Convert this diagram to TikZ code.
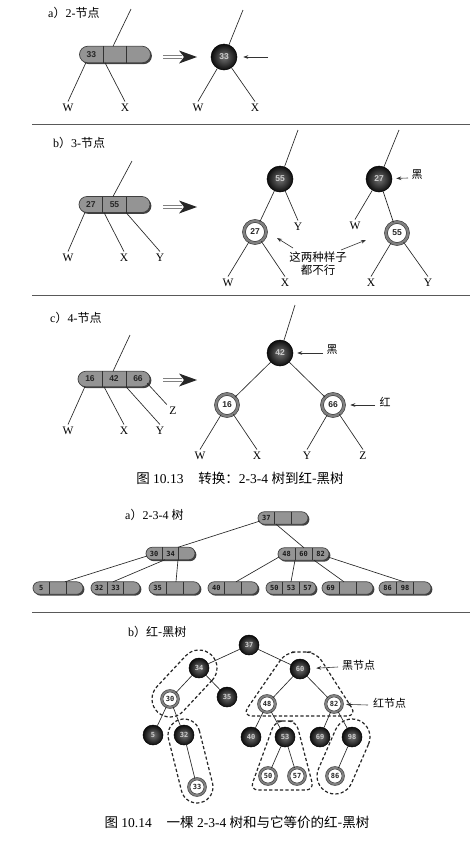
\documentclass[tikz,border=0pt]{standalone}
\usepackage{fontspec}
\setmainfont{Liberation Serif}
\newfontfamily\cjk{Noto Sans CJK SC}
\newfontfamily\numsans{Liberation Sans}
\newfontfamily\nummono{DejaVu Sans Mono}
\newcommand\zh[1]{{\cjk #1}}
\usetikzlibrary{calc,shapes.misc,shadows,arrows.meta}
\tikzset{
  keybox/.style={rounded rectangle, draw=black!75, line width=0.7pt, fill=black!42, inner sep=0pt,
    drop shadow={shadow xshift=1.4pt, shadow yshift=-1.4pt, fill=black!75, opacity=1}},
  keyline/.style={draw=black!80, line width=0.7pt},
  keytxt/.style={inner sep=0pt, text=black!85, font=\numsans\bfseries\fontsize{8.5}{9}\selectfont},
  keytxts/.style={inner sep=0pt, text=black!90, font=\nummono\bfseries\fontsize{7}{8}\selectfont},
  blk/.style={circle, inner sep=0pt, minimum size=26pt, inner color=black!55, outer color=black!95, draw=black, line width=0.5pt, text=black!20, font=\numsans\bfseries\fontsize{8.5}{9}\selectfont},
  rednode/.style={circle, inner sep=0pt, minimum size=22pt, fill=white, draw=black!80, double=black!50, double distance=2.4pt, line width=0.6pt, text=black!85, font=\numsans\bfseries\fontsize{8.5}{9}\selectfont},
  blks/.style={blk, minimum size=20pt, font=\nummono\bfseries\fontsize{7}{8}\selectfont},
  reds/.style={rednode, minimum size=16.5pt, double distance=1.9pt, line width=0.55pt, font=\nummono\bfseries\fontsize{7}{8}\selectfont},
  tline/.style={draw=black!85, line width=0.65pt},
  lbl/.style={inner sep=2.5pt, font=\fontsize{11.5}{12}\selectfont},
  sec/.style={inner sep=0pt, anchor=west, font=\fontsize{12}{13}\selectfont},
  zhlbl/.style={inner sep=0pt, font=\cjk\fontsize{11}{13}\selectfont},
  captxt/.style={inner sep=0pt, font=\fontsize{13.5}{15}\selectfont},
  ptr/.style={draw=black!80, line width=0.6pt, -{Stealth[length=5pt,width=3.6pt]}},
  rule/.style={draw=black!65, line width=1pt},
  encl/.style={draw=black!85, line width=1.2pt, dash pattern=on 3.2pt off 2.2pt},
}
% name, x, y, width, height, text style, t1, t2, t3
\newcommand\keybar[9]{%
  \node[keybox, minimum width=#4pt, minimum height=#5pt] (#1) at (#2,#3) {};
  \draw[keyline] ($(#1.center)+({-#4/6},{-#5/2})$) -- ($(#1.center)+({-#4/6},{#5/2})$);
  \draw[keyline] ($(#1.center)+({#4/6},{-#5/2})$) -- ($(#1.center)+({#4/6},{#5/2})$);
  \node[#6] (#1a) at ($(#1.center)+({-#4/3},0)$) {#7};
  \node[#6] (#1b) at (#1.center) {#8};
  \node[#6] (#1c) at ($(#1.center)+({#4/3},0)$) {#9};
}
\newcommand\convarrow[1]{%
  \draw[black!50, line width=0.7pt] (163,#1-1.7) -- (182,#1-1.7) (163,#1+1.7) -- (182,#1+1.7);
  \fill[black!85] (197,#1) -- (179,#1-6.5) -- (184,#1) -- (179,#1+6.5) -- cycle;
}
\newcommand\capsule[3]{%
  \draw[encl] let \p1=($(#2)-(#1)$), \n1={atan2(\y1,\x1)} in
    ($(#1)+(\n1+90:#3)$) arc[start angle=\n1+90, end angle=\n1+270, radius=#3]
    -- ($(#2)+(\n1-90:#3)$) arc[start angle=\n1-90, end angle=\n1+90, radius=#3] -- cycle;
}
\begin{document}
\begin{tikzpicture}[x=1pt,y=-1pt]
\fill[white] (0,0) rectangle (476,844);
\useasboundingbox (0,0) rectangle (476,844);

% ---------------- a) 2-node
\node[sec] (la) at (48,13) {a\zh{）}2-\zh{节点}};
\keybar{ka}{115}{54.5}{71}{16.5}{keytxt}{33}{}{}
\coordinate (kat) at (131,9);
\draw[tline] (kat) -- ($(ka.center)+(-2,-8.2)$);
\node[lbl] (law) at (68,108) {W};
\node[lbl] (lax) at (125,108) {X};
\draw[tline] ($(ka.center)+(-29,8)$) -- (law.north);
\draw[tline] ($(ka.center)+(-10,8.2)$) -- (lax.north);
\convarrow{57}
\node[blk] (c33) at (224,57) {33};
\coordinate (c33t) at (243,10);
\draw[tline] (c33t) -- (c33);
\node[lbl] (raw) at (198,108) {W};
\node[lbl] (rax) at (255,108) {X};
\draw[tline] (c33) -- (raw.north);
\draw[tline] (c33) -- (rax.north);
\coordinate (pa) at (268,57);
\draw[ptr, shorten >=6pt] (pa) -- (c33);
\draw[rule] (32,124.5) -- (470,124.5);

% ---------------- b) 3-node
\node[sec] (lb) at (53,143) {b\zh{）}3-\zh{节点}};
\keybar{kb}{114.5}{204.5}{71}{16}{keytxt}{27}{55}{}
\coordinate (kbt) at (132,161);
\draw[tline] (kbt) -- ($(kb.center)+(-1.5,-8)$);
\node[lbl] (lbw) at (68,258) {W};
\node[lbl] (lbx) at (124,258) {X};
\node[lbl] (lby) at (160,258) {Y};
\draw[tline] ($(kb.center)+(-29.5,7.8)$) -- (lbw.north);
\draw[tline] ($(kb.center)+(-10.5,8)$) -- (lbx.north);
\draw[tline] ($(kb.center)+(11.5,8)$) -- (lby.north);
\convarrow{207}
\node[blk] (b55) at (280,179) {55};
\coordinate (b55t) at (298,130);
\node[rednode] (b27r) at (255,232) {27};
\node[lbl] (bY1) at (298,227) {Y};
\node[lbl] (bW1) at (228,283) {W};
\node[lbl] (bX1) at (285,283) {X};
\draw[tline] (b55t) -- (b55);
\draw[tline] (b55) -- (b27r);
\draw[tline] (b55) -- (bY1.north);
\draw[tline] (b27r) -- (bW1.north);
\draw[tline] (b27r) -- (bX1.north);
\node[blk] (b27) at (379,179) {27};
\coordinate (b27t) at (399,130);
\node[lbl] (bW2) at (355,226) {W};
\node[rednode] (b55r) at (397,233) {55};
\node[lbl] (bX2) at (371,283) {X};
\node[lbl] (bY2) at (428,283) {Y};
\draw[tline] (b27t) -- (b27);
\draw[tline] (b27) -- (bW2.north);
\draw[tline] (b27) -- (b55r);
\draw[tline] (b55r) -- (bX2.north);
\draw[tline] (b55r) -- (bY2.north);
\node[zhlbl] (bh) at (417,175) {黑};
\coordinate (pbh) at (408,178);
\draw[ptr, shorten >=4pt] (pbh) -- (b27);
\node[zhlbl, align=center, font=\cjk\fontsize{11.5}{13}\selectfont] (bt) at (318,264) {这两种样子\\都不行};
\coordinate (bt1s) at (293,248);
\coordinate (bt1e) at (277,238);
\draw[ptr] (bt1s) -- (bt1e);
\coordinate (bt2s) at (341,250);
\coordinate (bt2e) at (366,240);
\draw[ptr] (bt2s) -- (bt2e);
\draw[rule] (32,295.5) -- (470,295.5);

% ---------------- c) 4-node
\node[sec] (lc) at (50,318) {c\zh{）}4-\zh{节点}};
\keybar{kc}{114}{379}{72}{15.5}{keytxt}{16}{42}{66}
\coordinate (kct) at (130,335);
\draw[tline] (kct) -- ($(kc.center)+(-1,-7.7)$);
\node[lbl] (lcw) at (68,431) {W};
\node[lbl] (lcx) at (124,431) {X};
\node[lbl] (lcy) at (160,431) {Y};
\node[lbl] (lcz) at (173,411) {Z};
\draw[tline] ($(kc.center)+(-29,7.5)$) -- (lcw.north);
\draw[tline] ($(kc.center)+(-10,7.7)$) -- (lcx.north);
\draw[tline] ($(kc.center)+(12,7.7)$) -- (lcy.north);
\draw[tline] ($(kc.center)+(33,4)$) -- (lcz.north west);
\convarrow{380}
\node[blk] (c42) at (280,353) {42};
\coordinate (c42t) at (295,305);
\node[rednode] (c16) at (227,405) {16};
\node[rednode] (c66) at (333,405) {66};
\node[lbl] (cW) at (200,456) {W};
\node[lbl] (cX) at (257,456) {X};
\node[lbl] (cY) at (307,456) {Y};
\node[lbl] (cZ) at (363,456) {Z};
\draw[tline] (c42t) -- (c42);
\draw[tline] (c42) -- (c16);
\draw[tline] (c42) -- (c66);
\draw[tline] (c16) -- (cW.north);
\draw[tline] (c16) -- (cX.north);
\draw[tline] (c66) -- (cY.north);
\draw[tline] (c66) -- (cZ.north);
\node[zhlbl] (ch) at (332,350) {黑};
\coordinate (pch) at (323,353);
\draw[ptr, shorten >=4pt] (pch) -- (c42);
\node[zhlbl] (cr) at (385,402) {红};
\coordinate (pcr) at (375,405);
\draw[ptr, shorten >=6pt] (pcr) -- (c66);
\node[captxt] (cap1) at (240,478) {\zh{图} 10.13\hspace{1.1em}\zh{转换：}2-3-4 \zh{树到红-黑树}};

% ---------------- Fig 10.14 a) 2-3-4 tree
\node[sec] (ld) at (125,515) {a\zh{）}2-3-4 \zh{树}};
\keybar{t37}{283}{518}{50}{12.5}{keytxts}{37}{}{}
\keybar{tp}{170.5}{553.5}{49}{12.5}{keytxts}{30}{34}{}
\keybar{tq}{303.5}{554}{51}{12.5}{keytxts}{48}{60}{82}
\keybar{tl}{58}{588}{50}{12.5}{keytxts}{5}{}{}
\keybar{tm}{115.5}{588}{49}{12.5}{keytxts}{32}{33}{}
\keybar{tn}{174.5}{588}{51}{12.5}{keytxts}{35}{}{}
\keybar{to}{233}{588}{50}{12.5}{keytxts}{40}{}{}
\keybar{tr}{291}{588}{50}{12.5}{keytxts}{50}{53}{57}
\keybar{ts}{347.5}{588}{51}{12.5}{keytxts}{69}{}{}
\keybar{tt}{405}{588}{52}{12.5}{keytxts}{86}{98}{}
\draw[tline] ($(t37.center)+(-23,3)$) -- ($(tp.center)+(7.5,-6.2)$);
\draw[tline] ($(t37.center)+(-7,6.2)$) -- ($(tq.center)+(0.5,-6.2)$);
\draw[tline] ($(tp.center)+(-23.5,2.5)$) -- ($(tl.center)+(7,-6.2)$);
\draw[tline] ($(tp.center)+(-5.5,6.2)$) -- ($(tm.center)+(-2.5,-6.2)$);
\draw[tline] ($(tp.center)+(7.5,6.2)$) -- ($(tn.center)+(1.5,-6.2)$);
\draw[tline] ($(tq.center)+(-24.5,3)$) -- ($(to.center)+(3,-6.2)$);
\draw[tline] ($(tq.center)+(-8.5,6.2)$) -- ($(tr.center)+(0,-6.2)$);
\draw[tline] ($(tq.center)+(10.5,6.2)$) -- ($(ts.center)+(-3.5,-6.2)$);
\draw[tline] ($(tq.center)+(24.5,3)$) -- ($(tt.center)+(-1,-6.2)$);
\draw[rule] (32,612) -- (470,612);

% ---------------- Fig 10.14 b) red-black tree
\node[sec] (le) at (128,632) {b\zh{）红-黑树}};
\node[blks] (r37) at (249,645) {37};
\node[blks] (r34) at (199,668) {34};
\node[blks] (r60) at (300,669) {60};
\node[reds] (r30) at (170,699) {30};
\node[blks] (r35) at (227,697) {35};
\node[reds] (r48) at (267,704) {48};
\node[reds] (r82) at (334,704) {82};
\node[blks] (r5) at (153,735) {5};
\node[blks] (r32) at (184,735) {32};
\node[blks] (r40) at (251,737) {40};
\node[blks] (r53) at (285,737) {53};
\node[blks] (r69) at (320,737) {69};
\node[blks] (r98) at (352,737) {98};
\node[reds] (r33) at (197,787) {33};
\node[reds] (r50) at (268,776) {50};
\node[reds] (r57) at (297,776) {57};
\node[reds] (r86) at (335,776) {86};
\foreach \a/\b in {r37/r34, r37/r60, r34/r30, r34/r35, r30/r5, r30/r32, r32/r33,
  r60/r48, r60/r82, r48/r40, r48/r53, r53/r50, r53/r57, r82/r69, r82/r98, r98/r86}
  \draw[tline] (\a) -- (\b);
\capsule{r34}{r30}{18pt}
\capsule{r32}{r33}{16pt}
\capsule{r98}{r86}{18pt}
\draw[encl, rounded corners=10pt] (301,652) -- (316,652) -- (357,716) -- (242,716) -- (286,652) -- cycle;
\draw[encl, rounded corners=8pt] (285,721) -- (296,721) -- (314,790) -- (250,790) -- (275,721) -- cycle;
\node[zhlbl, anchor=west] (lh) at (342,665) {黑节点};
\coordinate (ph) at (338,667);
\draw[ptr, shorten >=6pt] (ph) -- (r60);
\node[zhlbl, anchor=west] (lr) at (373,703) {红节点};
\coordinate (pr) at (368,705);
\draw[ptr, shorten >=3.5pt] (pr) -- (r82);
\node[captxt] (cap2) at (237,822) {\zh{图} 10.14\hspace{1.1em}\zh{一棵} 2-3-4 \zh{树和与它等价的红-黑树}};
\end{tikzpicture}
\end{document}
